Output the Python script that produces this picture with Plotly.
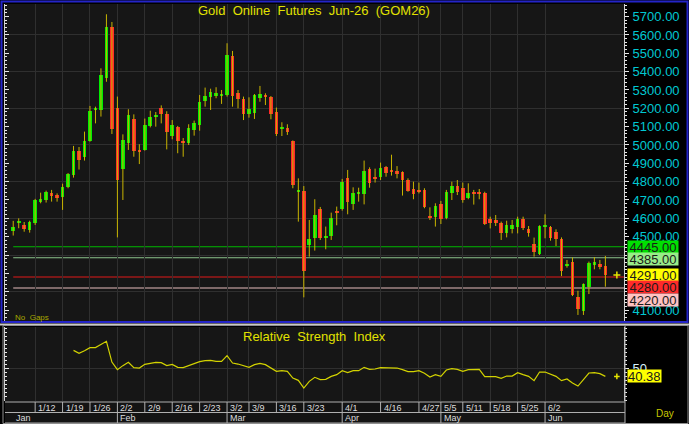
import plotly.graph_objects as go

W, H = 689, 424

# ---------------- data ----------------
opens = [4533, 4576, 4562, 4536, 4576, 4691, 4700, 4738, 4725, 4716,
         4769, 4836, 4967, 4936, 5024, 5191, 5189, 5367, 5645, 5200,
         4869, 5009, 5142, 4973, 4973, 5104, 5154, 5202, 5167, 5049,
         5096, 5022, 5009, 5080, 5109, 5240, 5264, 5269, 5269, 5273,
         5485, 5282, 5251, 5169, 5173, 5258, 5271, 5262, 5178, 5089,
         5093, 5022, 4744, 4749, 4455, 4491, 4651, 4498, 4505, 4640,
         4649, 4818, 4676, 4733, 4731, 4867, 4824, 4824, 4878, 4862,
         4856, 4853, 4809, 4758, 4755, 4755, 4613, 4605, 4678, 4602,
         4740, 4778, 4764, 4711, 4745, 4740, 4740, 4596, 4591, 4573,
         4518, 4540, 4551, 4598, 4544, 4460, 4405, 4554, 4554, 4524,
         4489, 4342, 4360, 4171, 4096, 4224, 4346, 4351, 4342]
highs = [4586, 4600, 4580, 4587, 4706, 4740, 4751, 4755, 4736, 4789,
         4847, 4995, 4989, 5073, 5213, 5209, 5418, 5713, 5671, 5264,
         5058, 5195, 5167, 5004, 5144, 5187, 5180, 5216, 5184, 5136,
         5104, 5038, 5113, 5133, 5273, 5313, 5307, 5315, 5300, 5555,
         5513, 5300, 5264, 5260, 5278, 5322, 5282, 5267, 5204, 5124,
         5113, 5025, 4818, 4776, 4591, 4704, 4662, 4555, 4631, 4664,
         4815, 4864, 4769, 4767, 4915, 4878, 4871, 4904, 4885, 4947,
         4885, 4856, 4818, 4800, 4795, 4764, 4660, 4682, 4695, 4755,
         4800, 4809, 4795, 4791, 4755, 4760, 4745, 4609, 4618, 4582,
         4587, 4591, 4609, 4609, 4558, 4495, 4562, 4622, 4558, 4540,
         4496, 4373, 4387, 4205, 4245, 4364, 4389, 4373, 4395]
lows = [4506, 4546, 4527, 4522, 4564, 4682, 4686, 4691, 4691, 4646,
        4764, 4822, 4866, 4915, 5018, 5118, 5155, 5345, 5060, 4496,
        4700, 4973, 4936, 4896, 4969, 5096, 5100, 5118, 4976, 5031,
        4955, 4936, 5000, 5051, 5078, 5209, 5191, 5255, 5224, 5264,
        5209, 5200, 5136, 5149, 5142, 5236, 5218, 5140, 5049, 5049,
        5055, 4764, 4582, 4169, 4391, 4424, 4482, 4431, 4482, 4562,
        4642, 4622, 4646, 4691, 4676, 4767, 4795, 4809, 4827, 4833,
        4818, 4724, 4745, 4704, 4736, 4655, 4591, 4555, 4569, 4595,
        4700, 4727, 4685, 4704, 4675, 4704, 4564, 4545, 4558, 4482,
        4496, 4518, 4518, 4536, 4500, 4391, 4400, 4491, 4478, 4449,
        4285, 4331, 4176, 4073, 4073, 4187, 4322, 4322, 4227]
closes = [4555, 4581, 4540, 4580, 4700, 4706, 4744, 4722, 4713, 4773,
          4844, 4967, 4920, 5022, 5187, 5204, 5382, 5645, 5086, 4809,
          5027, 5164, 4969, 4964, 5107, 5151, 5162, 5171, 5069, 5107,
          5022, 5011, 5093, 5122, 5236, 5267, 5287, 5284, 5271, 5491,
          5269, 5249, 5169, 5195, 5273, 5276, 5264, 5171, 5060, 5095,
          5069, 4782, 4749, 4315, 4489, 4618, 4491, 4505, 4604, 4633,
          4800, 4691, 4736, 4740, 4858, 4795, 4816, 4873, 4849, 4853,
          4840, 4809, 4749, 4731, 4749, 4660, 4602, 4667, 4596, 4744,
          4778, 4745, 4700, 4740, 4731, 4736, 4569, 4576, 4573, 4518,
          4562, 4564, 4598, 4545, 4518, 4416, 4558, 4560, 4491, 4485,
          4315, 4351, 4182, 4107, 4242, 4355, 4362, 4333, 4291]

rsi_start = 11
rsi = [72.9, 69.2, 72.5, 76.3, 76.3, 80.4, 84.2, 58.3, 48.8, 53.8,
       57.9, 51.3, 50.8, 55.4, 56.7, 57.9, 57.5, 53.8, 55.4, 51.7,
       51.3, 53.8, 55.4, 58.8, 60.0, 60.4, 59.2, 59.2, 66.3, 57.1,
       55.8, 53.8, 51.7, 55.0, 56.7, 55.0, 51.3, 46.7, 47.5, 46.7,
       38.3, 35.4, 25.8, 34.2, 39.2, 36.3, 36.7, 40.4, 42.5, 47.5,
       45.0, 47.5, 47.5, 51.7, 49.2, 49.6, 51.3, 51.3, 51.3, 50.8,
       48.8, 46.3, 46.3, 47.5, 44.2, 39.6, 42.5, 40.4, 48.3, 50.0,
       49.2, 46.7, 48.8, 49.2, 49.2, 40.0, 40.0, 40.0, 37.9, 40.8,
       40.8, 45.0, 42.5, 40.4, 35.0, 45.8, 45.8, 42.9, 40.4, 35.0,
       37.1, 32.1, 28.3, 36.3, 44.6, 45.0, 43.8, 40.38]

week_labels = ["1/12", "1/19", "1/26", "2/2", "2/9", "2/16", "2/23", "3/2", "3/9",
               "3/16", "3/23", "4/1", "4/16", "4/27", "5/5", "5/11", "5/18", "5/25", "6/2"]
week_idx = [4, 9, 14, 19, 24, 29, 34, 39, 43, 48, 53, 60, 67, 74, 78, 82, 87, 92, 97]
month_labels = ["Jan", "Feb", "Mar", "Apr", "May", "Jun"]
month_idx = [0, 19, 39, 60, 78, 97]

price_ticks = [4100, 4200, 4300, 4400, 4500, 4600, 4700, 4800, 4900,
               5000, 5100, 5200, 5300, 5400, 5500, 5600, 5700]

level_values = [4445, 4385, 4280, 4220]
level_line_colors = ["#00b800", "#8cc48c", "#e01818", "#e6bcbc"]
level_box_colors = ["#00e000", "#98ec88", "#ff2a2a", "#ffc2c2"]

title_text = "Gold  Online  Futures  Jun-26  (GOM26)"
rsi_title = "Relative  Strength  Index"

# ---------------- layout geometry ----------------
def px(x):
    return x / W


def py(y):
    return 1 - y / H


X0, X1 = 5, 624
MAIN_T, MAIN_B = 4, 321
RSI_T, RSI_B = 327, 401
YMIN, YMAX = 4040, 5769
RMIN, RMAX = 9.6, 102.1
n = len(closes)
idx = list(range(n))
XR = [-1.5, 111.4]

GREEN = "#00ee00"
RED = "#ff2a2a"
WICK = "#c8b400"
GRID = "#2f2f2f"
PLOTBG = "#161616"
FONT = "Liberation Sans, Arial"

fig = go.Figure()

# wicks
wx, wy = [], []
for i in idx:
    wx += [i, i, None]
    wy += [lows[i], highs[i], None]
fig.add_trace(go.Scatter(x=wx, y=wy, mode="lines", line=dict(color=WICK, width=1),
                         hoverinfo="skip", showlegend=False, xaxis="x", yaxis="y"))
# bodies
base = [min(o, c) for o, c in zip(opens, closes)]
height = [max(abs(c - o), 8) for o, c in zip(opens, closes)]
colors = [GREEN if c >= o else RED for o, c in zip(opens, closes)]
fig.add_trace(go.Bar(x=idx, y=height, base=base, width=0.66,
                     marker=dict(color=colors, line=dict(width=0)),
                     showlegend=False, xaxis="x", yaxis="y"))

# RSI
rx = list(range(rsi_start, rsi_start + len(rsi)))
fig.add_trace(go.Scatter(x=rx, y=rsi, mode="lines", line=dict(color="#d2d200", width=1.2),
                         showlegend=False, xaxis="x2", yaxis="y2"))

# small yellow markers at last values
fig.add_trace(go.Scatter(x=[n - 1 + 2.1], y=[closes[-1]], mode="markers",
                         marker=dict(symbol="cross-thin", size=5, line=dict(color="#e6e600", width=1.5)),
                         showlegend=False, xaxis="x", yaxis="y"))
fig.add_trace(go.Scatter(x=[n - 1 + 2.1], y=[rsi[-1]], mode="markers",
                         marker=dict(symbol="cross-thin", size=4, line=dict(color="#e6e600", width=1.5)),
                         showlegend=False, xaxis="x2", yaxis="y2"))

shapes = []
# level lines
for v, c in zip(level_values, level_line_colors):
    shapes.append(dict(type="line", xref="x", yref="y", x0=0, x1=XR[1], y0=v, y1=v,
                       line=dict(color=c, width=1.2), layer="below"))

# date rows background and borders
shapes.append(dict(type="rect", xref="paper", yref="paper", x0=px(X0), x1=px(X1 + 1),
                   y0=py(423), y1=py(RSI_B), fillcolor="#141414", line=dict(width=0), layer="below"))
for yy in [RSI_B + 1, 412.5, 423]:
    shapes.append(dict(type="line", xref="paper", yref="paper", x0=px(X0), x1=px(X1 + 1),
                       y0=py(yy), y1=py(yy), line=dict(color="#b0b0b0", width=1)))
for wi in week_idx:
    shapes.append(dict(type="line", xref="x2", yref="paper", x0=wi, x1=wi,
                       y0=py(RSI_B + 1), y1=py(412), line=dict(color="#b0b0b0", width=1)))
for mi in month_idx[1:]:
    shapes.append(dict(type="line", xref="x2", yref="paper", x0=mi, x1=mi,
                       y0=py(412.5), y1=py(423), line=dict(color="#b0b0b0", width=1)))
shapes.append(dict(type="line", xref="paper", yref="paper", x0=px(X1 + 1), x1=px(X1 + 1),
                   y0=py(423), y1=py(RSI_T - 1), line=dict(color="#b0b0b0", width=1)))
# frames
shapes.append(dict(type="rect", xref="paper", yref="paper", x0=px(1.5), x1=px(687.5),
                   y0=py(322), y1=py(1.5), line=dict(color="#2424c8", width=2)))
shapes.append(dict(type="line", xref="paper", yref="paper", x0=px(0), x1=px(689),
                   y0=py(324.5), y1=py(324.5), line=dict(color="#c8c8c8", width=2)))
shapes.append(dict(type="rect", xref="paper", yref="paper", x0=px(3), x1=px(688),
                   y0=py(423.5), y1=py(325.5), line=dict(color="#909090", width=1)))

annotations = []
annotations.append(dict(xref="paper", yref="paper", x=px(314), y=py(11), text=title_text,
                        showarrow=False, font=dict(family=FONT, size=13, color="#e2e200"),
                        xanchor="center", yanchor="middle"))
annotations.append(dict(xref="paper", yref="paper", x=px(314), y=py(336), text=rsi_title,
                        showarrow=False, font=dict(family=FONT, size=13, color="#e2e200"),
                        xanchor="center", yanchor="middle"))
annotations.append(dict(xref="paper", yref="paper", x=px(13), y=py(317), text="No  Gaps",
                        showarrow=False, font=dict(family=FONT, size=8, color="#a8a800"),
                        xanchor="left", yanchor="middle"))
annotations.append(dict(xref="paper", yref="paper", x=px(665), y=py(413), text="Day",
                        showarrow=False, font=dict(family=FONT, size=10, color="#c8c800"),
                        xanchor="center", yanchor="middle"))

# right-side value boxes (stacked to avoid overlap)
boxes = [(level_values[0], level_box_colors[0]), (level_values[1], level_box_colors[1]),
         (closes[-1], "#ffff00"), (level_values[2], level_box_colors[2]),
         (level_values[3], level_box_colors[3])]
boxes.sort(key=lambda b: -b[0])
scale = (MAIN_B - MAIN_T) / (YMAX - YMIN)
prev = -1e9
box_px = []
for v, col in boxes:
    nat = MAIN_T + (YMAX - v) * scale
    pos = max(nat, prev + 12.5)
    prev = pos
    box_px.append(pos)
    annotations.append(dict(xref="paper", yref="y", x=px(627), y=v, yshift=-(pos - nat),
                            text=f"{v:.2f}", showarrow=False, xanchor="left", yanchor="middle",
                            bgcolor=col, borderpad=0, width=50, height=12,
                            font=dict(family=FONT, size=13, color="#1a1a1a")))
annotations.append(dict(xref="paper", yref="y2", x=px(627), y=rsi[-1], text=f"{rsi[-1]:.2f}",
                        showarrow=False, xanchor="left", yanchor="middle", bgcolor="#ffff00",
                        borderpad=0, height=12,
                        font=dict(family=FONT, size=13, color="#1a1a1a")))
for lab, wi in zip(week_labels, week_idx):
    annotations.append(dict(xref="x2", yref="paper", x=wi, y=py(407.5), text=lab, showarrow=False,
                            xanchor="left", yanchor="middle", xshift=1,
                            font=dict(family=FONT, size=9, color="#dcdcdc")))
for lab, mi in zip(month_labels, month_idx):
    annotations.append(dict(xref="x2", yref="paper", x=mi, y=py(418), text=lab, showarrow=False,
                            xanchor="left", yanchor="middle", xshift=1,
                            font=dict(family=FONT, size=9, color="#dcdcdc")))

# price tick labels hidden behind the value boxes are left out (as in the reference)
shown_ticks = [t for t in price_ticks
               if all(abs(MAIN_T + (YMAX - t) * scale - bp) > 9 for bp in box_px)]

xdom = [px(X0), px(X1)]
fig.update_layout(
    width=W, height=H, autosize=False,
    margin=dict(l=0, r=0, t=0, b=0, pad=0),
    paper_bgcolor="#000000", plot_bgcolor=PLOTBG,
    barmode="overlay", bargap=0,
    shapes=shapes, annotations=annotations, showlegend=False,
    xaxis=dict(domain=xdom, range=XR, anchor="y", tickvals=week_idx, showticklabels=False,
               ticks="", showgrid=True, gridcolor=GRID, gridwidth=1, zeroline=False, showline=False),
    yaxis=dict(domain=[py(MAIN_B), py(MAIN_T)], range=[YMIN, YMAX], side="right", anchor="x",
               tickvals=shown_ticks, tickformat=".2f", showgrid=False, zeroline=False,
               tickfont=dict(family=FONT, size=13, color="#00c8d2"),
               ticks="outside", ticklen=4, tickcolor="#e8e8e8", ticklabelstandoff=1,
               minor=dict(tick0=4100, dtick=20, ticks="outside", ticklen=2, tickcolor="#e8e8e8"),
               showline=True, linecolor="#d0d0d0", linewidth=1),
    yaxis3=dict(overlaying="y", anchor="x", side="left", range=[YMIN, YMAX], tick0=4100, dtick=100,
                showticklabels=False, ticks="inside", ticklen=4, tickcolor="#e8e8e8",
                minor=dict(dtick=20, ticks="inside", ticklen=2, tickcolor="#e8e8e8"),
                showgrid=False, zeroline=False, showline=True, linecolor="#d0d0d0", linewidth=1),
    yaxis4=dict(overlaying="y", anchor="x", side="left", range=[YMIN, YMAX], tick0=4200, dtick=200,
                showticklabels=False, ticks="", showgrid=True, gridcolor=GRID, zeroline=False,
                showline=False),
    xaxis2=dict(domain=xdom, range=XR, anchor="y2", matches="x", tickvals=week_idx,
                showticklabels=False, ticks="", showgrid=True, gridcolor=GRID, zeroline=False,
                showline=False),
    yaxis2=dict(domain=[py(RSI_B), py(RSI_T)], range=[RMIN, RMAX], side="right", anchor="x2",
                tickvals=[50], ticktext=["50"], showgrid=True, gridcolor=GRID, zeroline=False,
                tickfont=dict(family=FONT, size=13, color="#d8f2ff"),
                ticks="outside", ticklen=4, tickcolor="#e8e8e8", ticklabelstandoff=1,
                minor=dict(tick0=0, dtick=5, ticks="outside", ticklen=2, tickcolor="#e8e8e8",
                           showgrid=False),
                showline=True, linecolor="#d0d0d0", linewidth=1),
    yaxis5=dict(overlaying="y2", anchor="x2", side="left", range=[RMIN, RMAX], tickvals=[50],
                showticklabels=False, ticks="inside", ticklen=4, tickcolor="#e8e8e8",
                minor=dict(tick0=0, dtick=5, ticks="inside", ticklen=2, tickcolor="#e8e8e8"),
                showgrid=False, zeroline=False, showline=True, linecolor="#d0d0d0", linewidth=1),
)
# empty traces so the overlay axes are drawn
fig.add_trace(go.Scatter(x=[None], y=[None], xaxis="x", yaxis="y3", showlegend=False))
fig.add_trace(go.Scatter(x=[None], y=[None], xaxis="x", yaxis="y4", showlegend=False))
fig.add_trace(go.Scatter(x=[None], y=[None], xaxis="x2", yaxis="y5", showlegend=False))

fig.write_html("out.html")
